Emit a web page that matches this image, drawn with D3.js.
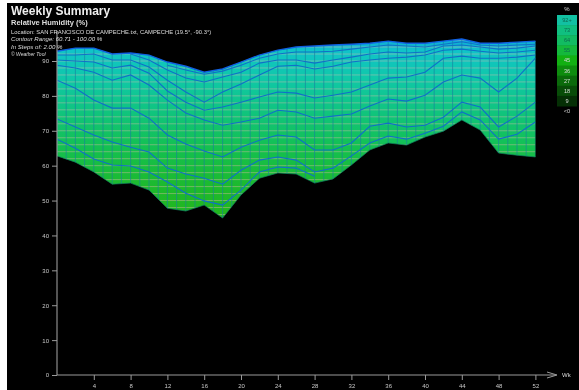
<!DOCTYPE html>
<html><head><meta charset="utf-8">
<script src="https://cdn.jsdelivr.net/npm/d3@7"></script>
<style>
html,body{margin:0;padding:0;background:#fff;overflow:hidden}
svg{display:block;position:absolute;left:0;top:0;filter:blur(0.55px)}
text{font-family:"Liberation Sans",Arial,sans-serif;fill:#ddd}
</style></head><body>
<script>
const weeks=d3.range(0,53,2);
const upper=[92.8,93.7,93.7,92.0,92.3,91.7,89.7,88.5,86.8,87.7,89.7,91.7,93.1,94.0,94.3,94.6,94.8,95.1,95.7,95.1,95.1,95.7,96.3,95.1,95.1,95.4,95.7];
const lower=[62.8,61.0,58.2,54.7,55.0,53.0,47.8,47.0,48.7,45.0,51.6,56.4,57.9,57.6,55.0,56.2,60.2,64.5,66.5,65.9,68.2,69.9,73.1,70.2,63.6,63.0,62.5];
const c1=[67.6,65.0,61.9,60.2,59.9,58.2,55.3,52.1,49.9,48.7,53.0,58.2,59.6,59.3,57.0,null,null,null,null,null,null,null,null,null,null,null,null];
const c2=[73.4,71.1,68.8,66.8,65.3,63.9,59.3,57.6,56.4,54.7,58.7,61.6,62.5,61.6,58.2,59.3,62.8,66.5,68.5,67.6,69.3,71.3,75.4,73.1,67.6,69.0,72.5];
const c3=[84.5,82.2,78.8,76.5,76.5,73.6,68.8,66.2,64.2,62.5,65.3,67.3,68.8,68.2,64.5,64.5,66.5,71.3,72.2,71.1,71.6,73.9,78.2,76.8,71.1,74.2,78.2];
const c4=[88.8,88.0,86.8,84.5,86.0,83.1,78.8,75.1,73.1,71.6,72.5,73.6,75.9,75.4,73.6,74.2,74.8,77.1,79.1,78.5,80.2,84.0,86.0,85.1,81.1,85.1,90.8];
const c5=[90.3,90.0,89.7,88.0,88.8,86.5,81.4,78.2,75.9,76.8,78.2,79.7,81.1,80.8,79.4,80.2,81.1,83.1,85.1,85.4,86.8,90.8,91.4,90.8,90.8,91.1,91.7];
const c6=[91.7,91.7,92.0,90.3,90.3,88.3,84.5,81.1,78.2,81.1,83.4,86.0,88.5,88.8,87.7,88.5,89.7,90.3,90.8,91.1,91.7,93.1,93.4,92.8,92.3,92.6,93.1];
const c7=[null,null,null,null,92.0,90.3,87.4,85.1,84.0,85.4,86.8,89.4,90.3,90.3,89.4,90.3,91.1,92.0,92.6,92.3,92.6,94.3,94.6,94.0,93.4,93.7,94.3];
const c8=[null,null,null,null,null,null,88.8,87.4,86.2,87.1,88.8,90.8,92.0,92.6,92.6,92.8,93.4,94.0,94.6,94.3,94.0,94.8,95.5,94.6,94.3,94.6,94.8];
const contours=[c1,c2,c3,c4,c5,c6,c7,c8];
const xTicks=d3.range(4,53,4);
const yTicks=[0,10,20,30,40,50,60,70,80,90];
const legendLabels=["92+","73","64","55","45","36","27","18","9","<0"];
const legendColors=["#12c0a2","#10bf80","#12bb62","#14b83c","#12b012","#0e8c0e","#0b6a0b","#084c08","#052f05"];
const humidStops=[45,55,65,75,85,93,96.5];
const humidColors=["#22b61c","#1cba30","#14c050","#10c47c","#10c8a8","#10c4c8","#10a4dc"];

const W=579,H=390;
const x=d3.scaleLinear().domain([0,52]).range([57,535.4]);
const y=d3.scaleLinear().domain([0,90]).range([375,61]);
const svg=d3.select("body").append("svg").attr("width",W).attr("height",H);
svg.append("rect").attr("x",7).attr("y",3).attr("width",W-7).attr("height",H-3).attr("fill","#000");

const defs=svg.append("defs");
const grad=defs.append("linearGradient").attr("id","hum").attr("gradientUnits","userSpaceOnUse")
 .attr("x1",0).attr("x2",0).attr("y1",y(humidStops[0])).attr("y2",y(humidStops[humidStops.length-1]));
humidStops.forEach((s,i)=>grad.append("stop").attr("offset",(s-humidStops[0])/(humidStops[humidStops.length-1]-humidStops[0])).attr("stop-color",humidColors[i]));
const area=d3.area().x((d,i)=>x(weeks[i])).y0((d,i)=>y(lower[i])).y1(d=>y(d));
defs.append("clipPath").attr("id","clip").append("path").attr("d",area(upper));

svg.append("path").attr("d",area(upper)).attr("fill","url(#hum)");
const g=svg.append("g").attr("clip-path","url(#clip)");
g.selectAll(".h").data(d3.range(44,98,2)).join("line").attr("x1",x(0)).attr("x2",x(52))
 .attr("y1",d=>y(d)).attr("y2",d=>y(d)).attr("stroke","#f0b8b0").attr("stroke-opacity",.5).attr("stroke-width",.8);
g.selectAll(".v").data(d3.range(0,53)).join("line").attr("y1",y(100)).attr("y2",y(40))
 .attr("x1",d=>x(d)).attr("x2",d=>x(d)).attr("stroke","#1880a0").attr("stroke-opacity",.62).attr("stroke-width",1);
const line=d3.line().defined(d=>d!==null).x((d,i)=>x(weeks[i])).y(d=>y(d));
g.selectAll(".c").data(contours).join("path").attr("d",d=>line(d)).attr("fill","none")
 .attr("stroke","#1070c8").attr("stroke-width",1.1);
svg.append("path").attr("d",d3.line().x((d,i)=>x(weeks[i])).y(d=>y(d))(upper)).attr("fill","none").attr("stroke","#1060e0").attr("stroke-width",1.4);
svg.append("path").attr("d",d3.line().x((d,i)=>x(weeks[i])).y(d=>y(d))(lower)).attr("fill","none").attr("stroke","#108060").attr("stroke-width",.7);

// axes
const ax="#9a9a9a";
const gx=svg.append("g").attr("transform","translate(0,375)").call(d3.axisBottom(x).tickValues(xTicks).tickSize(5).tickPadding(4).tickFormat(d3.format("d")));
const gy=svg.append("g").attr("transform","translate(57,0)").call(d3.axisLeft(y).tickValues(yTicks).tickSize(5).tickPadding(3).tickFormat(d3.format("d")));
[gx,gy].forEach(a=>{a.select(".domain").remove();a.selectAll("line").attr("stroke",ax);a.selectAll("text").style("font-size","6px").style("fill","#c8c8c8").style("font-family",'"Liberation Sans",sans-serif');});
svg.append("line").attr("x1",57).attr("x2",555).attr("y1",375).attr("y2",375).attr("stroke",ax).attr("stroke-width",1.1);
svg.append("line").attr("x1",57).attr("x2",57).attr("y1",375).attr("y2",31).attr("stroke",ax).attr("stroke-width",1.1);
svg.append("path").attr("d","M547 372L557 375L547 378").attr("fill","none").attr("stroke",ax);
svg.append("text").attr("x",562).attr("y",377).attr("font-size",6).text("Wk");

// titles
const T=(t,yy,fs,w,st,fill)=>svg.append("text").attr("x",11).attr("y",yy).attr("font-size",fs).attr("font-weight",w||400).attr("font-style",st||"normal").style("fill",fill||"#ddd").text(t);
T("Weekly Summary",14.5,12,700,null,"#eee");
T("Relative Humidity (%)",25,7.5,700);
T("Location: SAN FRANCISCO DE CAMPECHE.txt, CAMPECHE (19.5°, -90.3°)",33.5,5.85);
T("Contour Range: 60.71 - 100.00 %",41,6.1,400,"italic");
T("In Steps of: 2.00 %",49,6.1,400,"italic");
T("© Weather Tool",56,5,400,"italic");

// legend
const ly=d3.scaleBand().domain(d3.range(legendColors.length)).range([15,106]);
svg.append("g").selectAll("rect").data(legendColors).join("rect").attr("x",557).attr("width",20)
 .attr("y",(d,i)=>ly(i)).attr("height",ly.bandwidth()+.5).attr("fill",d=>d);
svg.append("text").attr("x",567).attr("y",11).attr("text-anchor","middle").attr("font-size",6).text("%");
svg.append("g").selectAll("text").data(legendLabels).join("text").attr("x",567).attr("text-anchor","middle")
 .attr("y",(d,i)=>ly(0)+ly.bandwidth()*i+7).attr("font-size",5.6).style("fill",(d,i)=>i<4?"#0c6a50":"#d8d8d8").text(d=>d);
</script></body></html>
